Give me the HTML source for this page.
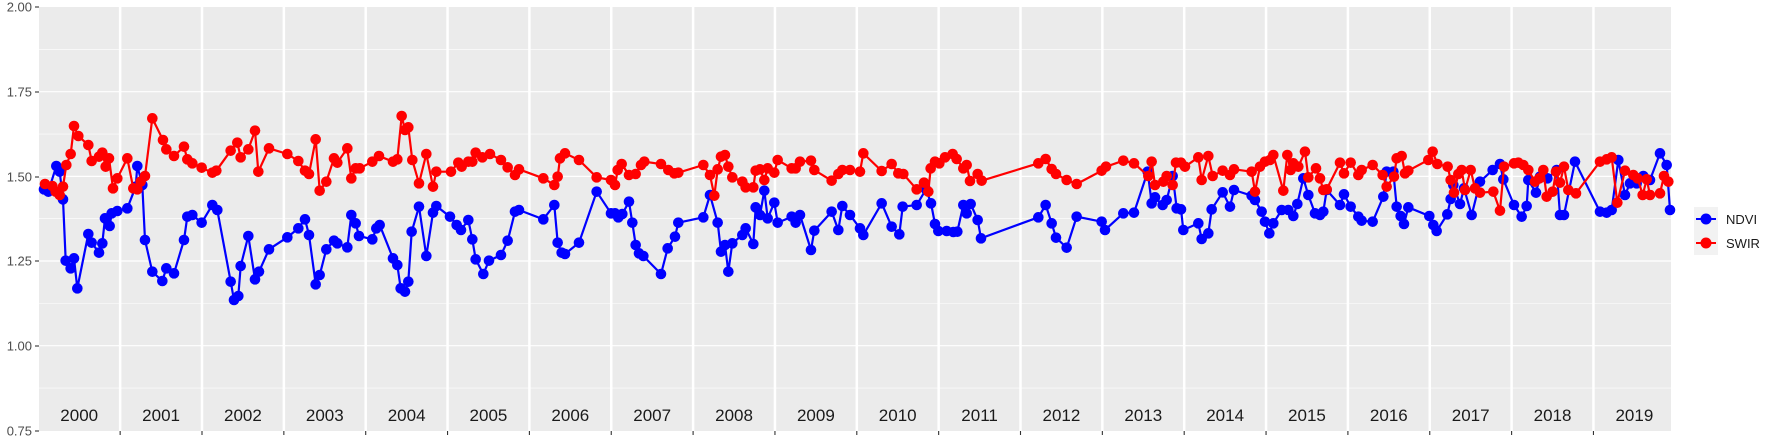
<!DOCTYPE html>
<html><head><meta charset="utf-8"><style>
body{margin:0;background:#fff;width:1773px;height:442px;overflow:hidden}
text{font-family:"Liberation Sans",sans-serif}
</style></head><body>
<svg id="s" width="1773" height="442" xmlns="http://www.w3.org/2000/svg">
<rect x="39" y="7" width="1632" height="424" fill="#ebebeb"/>
<g id="grid"></g>
<g id="series"></g>
<g font-size="13" fill="#4d4d4d" text-anchor="end">
<text x="32" y="11.5">2.00</text><text x="32" y="96.5">1.75</text><text x="32" y="181.5">1.50</text><text x="32" y="265.5">1.25</text><text x="32" y="350.5">1.00</text><text x="32" y="435.5">0.75</text>
</g>
<g stroke="#333" stroke-width="1.1">
<line x1="35" x2="39" y1="7" y2="7"/><line x1="35" x2="39" y1="92" y2="92"/><line x1="35" x2="39" y1="177" y2="177"/><line x1="35" x2="39" y1="261" y2="261"/><line x1="35" x2="39" y1="346" y2="346"/><line x1="35" x2="39" y1="431" y2="431"/>
</g>
<g id="yl" font-size="17" fill="#1a1a1a" text-anchor="middle"></g>
<rect x="1694" y="207" width="24" height="48" fill="#f2f2f2"/>
<line x1="1696" x2="1716" y1="219" y2="219" stroke="#0000ff" stroke-width="2"/><circle cx="1706" cy="219" r="5.5" fill="#0000ff"/>
<line x1="1696" x2="1716" y1="243" y2="243" stroke="#ff0000" stroke-width="2"/><circle cx="1706" cy="243" r="5.5" fill="#ff0000"/>
<text x="1726" y="224" font-size="13" fill="#1a1a1a">NDVI</text>
<text x="1726" y="248" font-size="13" fill="#1a1a1a">SWIR</text>
</svg>
<script>
var NS="http://www.w3.org/2000/svg";
function X(t){return 38.3+(t-2000)*81.85}
function Y(v){return 7+(2-v)*338.7}
function el(p,n,a){var e=document.createElementNS(NS,n);for(var k in a)e.setAttribute(k,a[k]);p.appendChild(e);return e}
var g=document.getElementById('grid');
for(var v=0.875;v<2;v+=0.25)el(g,'line',{x1:39,x2:1671,y1:Y(v),y2:Y(v),stroke:'#fff','stroke-width':0.6});
for(var v=1.0;v<2;v+=0.25)el(g,'line',{x1:39,x2:1671,y1:Y(v),y2:Y(v),stroke:'#fff','stroke-width':1.2});
var yl=document.getElementById('yl');
for(var y=2001;y<=2019;y++){el(g,'line',{x1:X(y),x2:X(y),y1:7,y2:431,stroke:'#fff','stroke-width':2.5});
el(document.getElementById('s'),'line',{x1:X(y),x2:X(y),y1:431,y2:435,stroke:'#333','stroke-width':1.1});}
for(var y=2000;y<=2019;y++){var t=el(yl,'text',{x:X(y+0.5),y:421});t.textContent=y;}
function Z(x0,a){var r=[];for(var i=0;i<a.length;i+=2)r.push([x0+a[i]/3,100+a[i+1]/3]);return r}
var R=[].concat(
Z(39,[18,252,40,258,50,275,62,285,72,260,82,195,95,162,105,78,118,108,148,135,158,183,180,170,190,158,200,200,210,175,222,265,235,235,265,175,283,265,295,268,305,245,318,228,340,55,372,120,382,148,405,168,435,140,445,178,460,190,488,203,520,218,532,212,575,152,595,128,605,172,628,148,648,92,658,215,690,145,745,162,778,183,798,212,810,222,830,118,842,272,862,245,885,175,895,188,925,145,937,235,950,205,962,205,1000,185,1020,168,1062,185,1075,178,1088,48,1098,90,1108,82,1120,180,1140,250,1162,162,1182,260,1192,215]),
Z(445,[18,215,40,188,50,200,70,185,82,185,92,158,112,172,135,162,168,180,188,202,210,225,222,208,295,235,328,255,338,230,345,175,360,160,402,180,455,232,498,240,510,255,518,210,530,192,552,225,572,222,588,195,598,185,648,192,670,210,688,220,700,218,775,195,795,225,808,287,818,208,828,170,840,165,850,200,862,232,892,245,902,262,925,262,932,212,945,208,958,240,968,205,988,218,998,180,1040,205,1052,205,1065,185,1098,182,1108,210,1160,242,1180,222,1192,210]),
Z(850,[0,210,30,215,40,160,95,213,125,192,145,220,160,222,200,268,222,248,235,275,242,205,255,185,268,190,285,172,308,162,320,177,340,205,350,195,360,243,383,222,395,242,565,190,587,177,605,207,618,222,650,240,680,252,755,212,768,200,820,182,852,190,895,228,905,185,915,255,940,245,950,228,968,255,978,188,993,188,1005,200,1045,172,1055,240,1075,168,1088,228,1118,212,1140,225,1152,208,1205,215,1215,275]),
Z(1260,[0,200,15,185,30,180,40,165,70,272,82,165,92,210,100,190,115,200,135,155,145,232,168,205,180,235,190,270,200,268,240,188,252,220,272,188,295,225,305,210,338,195,368,225,380,260,402,230,410,175,425,168,435,220,445,212,505,180,518,155,532,192,563,200,572,240,582,278,595,222,605,210,615,270,632,210,645,265,660,278,700,275,720,332,732,200,762,190,775,188,790,195,805,210,825,245,838,235,850,210,860,290,878,275,888,215,900,248,912,200,925,270,948,280,1020,185,1040,178,1055,172,1072,308,1095,212,1120,225,1133,235,1148,285,1160,238,1170,285,1200,280,1212,228,1225,245]));
var B=[].concat(
Z(39,[15,268,28,275,52,198,62,215,72,298,80,482,95,505,105,475,115,565,148,402,158,428,180,458,190,430,198,355,212,378,218,340,235,333,265,325,290,260,295,198,310,255,318,420,340,515,370,543,382,505,405,520,435,420,445,350,460,345,488,368,520,315,535,330,575,545,585,600,598,588,605,498,628,408,648,538,660,515,690,448,745,412,778,385,798,358,810,405,830,553,842,525,862,448,885,422,895,430,925,442,937,345,950,370,960,408,1000,418,1012,385,1022,375,1062,475,1075,495,1085,565,1098,575,1108,545,1118,395,1140,320,1162,468,1182,338,1192,318]),
Z(445,[15,350,35,375,48,390,70,360,82,418,92,478,115,522,132,482,168,465,188,422,210,335,222,330,295,358,328,315,338,428,350,458,360,462,402,428,455,275,498,340,510,340,520,352,532,342,552,305,562,368,572,435,582,460,595,468,648,522,668,445,690,410,700,368,775,352,795,285,818,368,828,455,840,435,850,515,862,430,892,405,902,385,925,432,932,322,945,345,958,272,968,355,988,308,998,368,1040,350,1052,368,1065,345,1098,450,1108,392,1160,335,1180,390,1192,318]),
Z(850,[0,345,30,385,40,405,95,310,125,380,148,403,158,320,200,315,228,268,243,310,255,372,265,393,290,393,310,396,322,395,340,315,350,340,362,312,383,360,393,415,565,352,587,315,605,370,618,413,650,443,680,350,755,365,765,390,820,340,852,338,893,215,905,310,915,292,938,315,950,300,968,228,980,325,993,328,1000,390,1045,370,1055,417,1075,400,1085,328,1118,277,1140,320,1152,270,1205,287,1215,300]),
Z(1260,[5,335,15,365,28,400,40,370,65,330,85,330,100,348,112,312,130,235,145,285,165,340,180,345,190,335,200,270,240,315,252,283,272,320,295,350,305,362,338,365,370,290,380,215,400,215,410,320,422,348,432,372,445,322,508,348,520,375,530,393,562,343,572,297,580,255,600,312,612,265,635,345,660,245,698,210,720,192,730,238,762,315,785,350,800,318,805,240,828,278,840,230,862,235,890,210,900,345,912,345,945,185,1020,335,1040,338,1055,330,1075,180,1095,285,1110,250,1130,250,1150,228,1170,240,1200,160,1220,195,1230,330]));
function draw(d,c){var gs=document.getElementById('series');var p='';
for(var i=0;i<d.length;i++)p+=(i?'L':'M')+d[i][0].toFixed(1)+' '+d[i][1].toFixed(1);
el(gs,'path',{d:p,fill:'none',stroke:c,'stroke-width':2.2});
for(var i=0;i<d.length;i++)el(gs,'circle',{cx:d[i][0],cy:d[i][1],r:5.3,fill:c});}
draw(B,'#0000ff');draw(R,'#ff0000');
</script>
</body></html>
